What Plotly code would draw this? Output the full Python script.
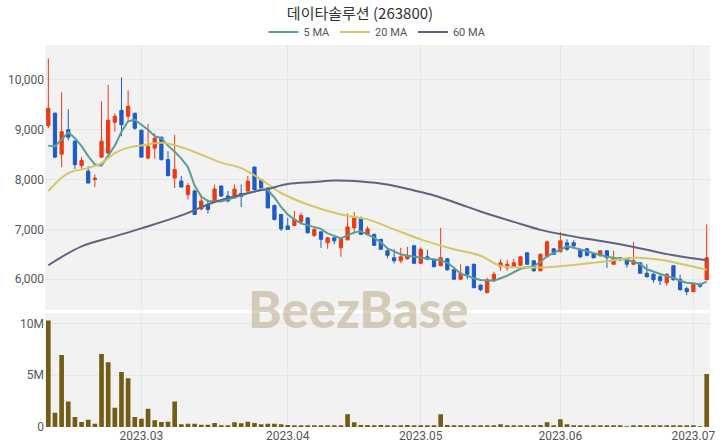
import pandas as pd
import plotly.graph_objects as go
from plotly.subplots import make_subplots

# ---- categories (trading days) ----
holidays = ["2023-03-01", "2023-05-01", "2023-05-05", "2023-06-06", "2023-06-07"]
dates = [d.strftime("%Y-%m-%d") for d in pd.bdate_range("2023-02-09", "2023-07-05")
         if d.strftime("%Y-%m-%d") not in holidays]

tick_dates = ["2023-03-02", "2023-04-03", "2023-05-02", "2023-06-01", "2023-07-03"]
tick_labels = ["2023.03", "2023.04", "2023.05", "2023.06", "2023.07"]

# ---- OHLC ----
opens = [9080, 9330, 8510, 9000, 8770, 8280, 8170, 8000, 8450, 8530,
         9150, 9390, 9270, 9330, 8990, 8430, 8630, 8850, 8400, 8030,
         7970, 7700, 7770, 7410, 7480, 7570, 7870, 7670, 7630, 7720,
         7770, 8250, 8000, 7830, 7480, 7300, 7070, 7080, 7150, 7230,
         6880, 6950, 6730, 6830, 6630, 6790, 7030, 7230, 6900, 6900,
         6800, 6570, 6430, 6370, 6410, 6670, 6320, 6450, 6400, 6270,
         6410, 6190, 6000, 6250, 6300, 5880, 5730, 5970, 6250, 6230,
         6250, 6280, 6530, 6370, 6170, 6450, 6610, 6550, 6730, 6730,
         6590, 6610, 6510, 6470, 6570, 6300, 6430, 6410, 6300, 6330,
         6120, 6100, 6050, 5930, 6270, 6000, 5810, 5750, 5900, 5990]
highs = [10430, 9350, 9750, 9410, 8790, 8450, 8270, 8100, 9570, 9900,
         9330, 10050, 9790, 9340, 9000, 9120, 8930, 8860, 8570, 8900,
         8070, 7930, 7800, 7700, 7600, 7900, 7880, 7770, 7900, 7900,
         8070, 8260, 8010, 7840, 7500, 7310, 7230, 7370, 7340, 7240,
         7050, 6960, 6850, 6850, 6830, 7320, 7350, 7260, 7060, 6910,
         6810, 6600, 6600, 6630, 6650, 6690, 6640, 6590, 6410, 7030,
         6430, 6200, 6300, 6270, 6310, 5900, 6030, 6150, 6400, 6390,
         6410, 6470, 6540, 6380, 6520, 6780, 6620, 6950, 6800, 6780,
         6620, 6620, 6520, 6580, 6580, 6570, 6440, 6430, 6750, 6340,
         6300, 6120, 6100, 6120, 6280, 6090, 5850, 5920, 5930, 7100]
lows = [9030, 8430, 8250, 8790, 8210, 8210, 7930, 7850, 8430, 8520,
        8960, 8870, 9200, 9000, 8440, 8410, 8420, 8380, 8060, 7830,
        7840, 7600, 7290, 7380, 7320, 7540, 7650, 7540, 7620, 7450,
        7750, 7790, 7830, 7430, 7180, 6970, 6990, 7060, 7100, 6930,
        6850, 6630, 6610, 6700, 6450, 6780, 6900, 6890, 6880, 6680,
        6600, 6420, 6320, 6320, 6390, 6310, 6310, 6380, 6240, 6260,
        6170, 5990, 5990, 6000, 5820, 5760, 5720, 5950, 6170, 6170,
        6230, 6270, 6290, 6150, 6160, 6440, 6490, 6540, 6570, 6620,
        6420, 6460, 6420, 6460, 6230, 6290, 6360, 6230, 6290, 6110,
        6030, 5930, 5880, 5870, 5970, 5770, 5680, 5740, 5830, 5980]
closes = [9430, 8450, 8960, 8850, 8300, 8380, 7930, 8030, 8770, 9190,
          9270, 9100, 9470, 9030, 8450, 8670, 8830, 8400, 8080, 8200,
          7850, 7880, 7300, 7570, 7400, 7810, 7670, 7570, 7810, 7660,
          7970, 7800, 7830, 7430, 7200, 7010, 7000, 7200, 7280, 6930,
          7000, 6800, 6830, 6770, 6810, 7050, 7230, 6900, 7010, 6680,
          6600, 6480, 6370, 6450, 6480, 6320, 6600, 6400, 6250, 6430,
          6190, 6000, 6120, 6100, 5830, 5790, 5990, 6100, 6330, 6300,
          6330, 6450, 6300, 6170, 6500, 6750, 6500, 6770, 6600, 6670,
          6450, 6480, 6430, 6570, 6430, 6410, 6390, 6300, 6370, 6120,
          6050, 5990, 5970, 6100, 5990, 5790, 5750, 5900, 5860, 6430]

# ---- volume (millions of shares) ----
volume_m = [10.3, 1.38, 6.95, 2.47, 0.96, 0.48, 0.7, 0.32, 7.05, 6.25,
            1.86, 5.32, 4.71, 0.96, 0.8, 1.76, 0.64, 0.48, 0.5, 2.47,
            0.26, 0.32, 0.32, 0.22, 0.22, 0.38, 0.13, 0.13, 0.45, 0.35,
            0.5, 0.38, 0.26, 0.32, 0.32, 0.26, 0.19, 0.16, 0.1, 0.16,
            0.13, 0.13, 0.13, 0.13, 0.13, 1.22, 0.45, 0.2, 0.2, 0.13,
            0.2, 0.13, 0.13, 0.16, 0.2, 0.16, 0.13, 0.13, 0.13, 1.22,
            0.2, 0.16, 0.16, 0.1, 0.16, 0.13, 0.1, 0.1, 0.26, 0.13,
            0.16, 0.13, 0.16, 0.1, 0.2, 0.45, 0.13, 0.74, 0.26, 0.16,
            0.1, 0.1, 0.1, 0.13, 0.13, 0.16, 0.1, 0.05, 0.16, 0.1,
            0.1, 0.1, 0.1, 0.1, 0.13, 0.1, 0.1, 0.1, 0.05, 5.13]

# ---- moving averages ----
ma5 = [8680, 8670, 8800, 8950, 8830, 8670, 8470, 8300, 8280, 8470,
       8680, 8960, 9170, 9200, 9100, 9000, 8870, 8830, 8680, 8560,
       8420, 8250, 7880, 7660, 7570, 7560, 7560, 7600, 7640, 7680,
       7720, 7760, 7800, 7790, 7640, 7450, 7300, 7200, 7120, 7080,
       7040, 7010, 6920, 6870, 6820, 6880, 6940, 6960, 6900, 6830,
       6740, 6620, 6560, 6500, 6470, 6450, 6430, 6410, 6400, 6380,
       6330, 6230, 6110, 6060, 6020, 5985, 5970, 5967, 6020, 6070,
       6140, 6210, 6240, 6260, 6350, 6460, 6530, 6600, 6660, 6630,
       6600, 6560, 6520, 6480, 6450, 6430, 6410, 6390, 6350, 6300,
       6200, 6150, 6100, 6060, 6030, 5970, 5930, 5920, 5890, 5950]

ma20_idx = [0, 3, 6, 8, 10, 12, 14, 17, 20, 23, 26, 29, 32, 35, 39, 44, 48, 52,
            56, 61, 65, 68, 72, 76, 80, 84, 88, 92, 95, 99]
ma20_val = [7770, 8130, 8230, 8330, 8530, 8640, 8685, 8740, 8650, 8500, 8340, 8230,
            8000, 7730, 7500, 7300, 7200, 7000, 6800, 6600, 6470, 6267, 6233, 6250,
            6300, 6360, 6430, 6390, 6310, 6190]

ma60_idx = [0, 5, 10, 14, 20, 25, 30, 33, 36, 40, 43, 47, 51, 55, 58, 62, 65, 70,
            74, 78, 82, 86, 90, 94, 99]
ma60_val = [6280, 6660, 6860, 7020, 7280, 7550, 7730, 7813, 7910, 7950, 7980, 7960,
            7900, 7780, 7680, 7500, 7360, 7150, 6990, 6880, 6790, 6700, 6590, 6480, 6380]

UP = "#eb3a14"
DOWN = "#1d5bc6"
VOL = "#735c14"
C5 = "#5c9e95"
C20 = "#d8c564"
C60 = "#5b6581"

fig = make_subplots(rows=2, cols=1, shared_xaxes=True)

fig.add_trace(go.Candlestick(
    x=dates, open=opens, high=highs, low=lows, close=closes,
    increasing=dict(line=dict(color=UP, width=1), fillcolor=UP),
    decreasing=dict(line=dict(color=DOWN, width=1), fillcolor=DOWN),
    showlegend=False, hoverinfo="skip"), row=1, col=1)

fig.add_trace(go.Scatter(x=dates, y=ma5, mode="lines", name="5 MA",
                         line=dict(color=C5, width=2)), row=1, col=1)
fig.add_trace(go.Scatter(x=[dates[i] for i in ma20_idx], y=ma20_val, mode="lines",
                         name="20 MA", line=dict(color=C20, width=2, shape="spline")),
              row=1, col=1)
fig.add_trace(go.Scatter(x=[dates[i] for i in ma60_idx], y=ma60_val, mode="lines",
                         name="60 MA", line=dict(color=C60, width=2, shape="spline")),
              row=1, col=1)

fig.add_trace(go.Bar(x=dates, y=[v * 1e6 for v in volume_m], marker_color=VOL,
                     marker_line_width=0, showlegend=False), row=2, col=1)

axis_font = dict(family="Roboto, Noto Sans, sans-serif", size=12, color="#555")
grid = "#e6e6e6"

fig.update_layout(
    width=720, height=448,
    margin=dict(l=45, r=10, t=45, b=21, autoexpand=False),
    paper_bgcolor="white",
    plot_bgcolor="#f2f2f2",
    font=dict(family="Noto Sans CJK KR, Noto Sans, sans-serif", color="#444"),
    title=dict(text="데이타솔루션 (263800)", x=0.5, xanchor="center", y=1 - 14 / 448,
               yanchor="middle", font=dict(size=15, color="#333")),
    legend=dict(orientation="h", x=0.5, xanchor="center", y=1 + 13 / 382, yanchor="middle",
                font=dict(family="Roboto, Noto Sans, sans-serif", size=11, color="#555"),
                bgcolor="rgba(0,0,0,0)", itemwidth=30, tracegroupgap=0),
    bargap=0.3,
    showlegend=True,
    xaxis=dict(type="category", range=[-0.5, len(dates) - 0.5], rangeslider=dict(visible=False),
               tickvals=tick_dates, ticktext=tick_labels, showticklabels=False,
               showgrid=True, gridcolor=grid, zeroline=False, ticks="", automargin=False),
    xaxis2=dict(type="category", range=[-0.5, len(dates) - 0.5],
                tickvals=tick_dates, ticktext=tick_labels, showticklabels=True,
                showgrid=True, gridcolor=grid, zeroline=False, ticks="",
                tickfont=axis_font, automargin=False),
    yaxis=dict(domain=[0.306, 1.0], range=[5380, 10700], tickvals=[6000, 7000, 8000, 9000, 10000],
               tickformat=",", showgrid=True, gridcolor=grid, zeroline=False,
               tickfont=axis_font, ticks="", automargin=False),
    yaxis2=dict(domain=[0.0, 0.298], range=[0, 11e6], tickvals=[0, 5e6, 10e6],
                ticktext=["0", "5M", "10M"], showgrid=True, gridcolor=grid,
                zeroline=False, tickfont=axis_font, ticks="", automargin=False),
)

fig.add_annotation(text="BeezBase", xref="paper", yref="paper", x=0.471, y=0.309,
                   xanchor="center", yanchor="middle", showarrow=False,
                   font=dict(family="Lato, Noto Sans, sans-serif", size=51, weight=900,
                             color="rgba(185,172,135,0.55)"))

fig.write_html("out.html", config={"displayModeBar": False},
               post_script="document.body.style.margin='0';document.body.style.overflow='hidden';")
